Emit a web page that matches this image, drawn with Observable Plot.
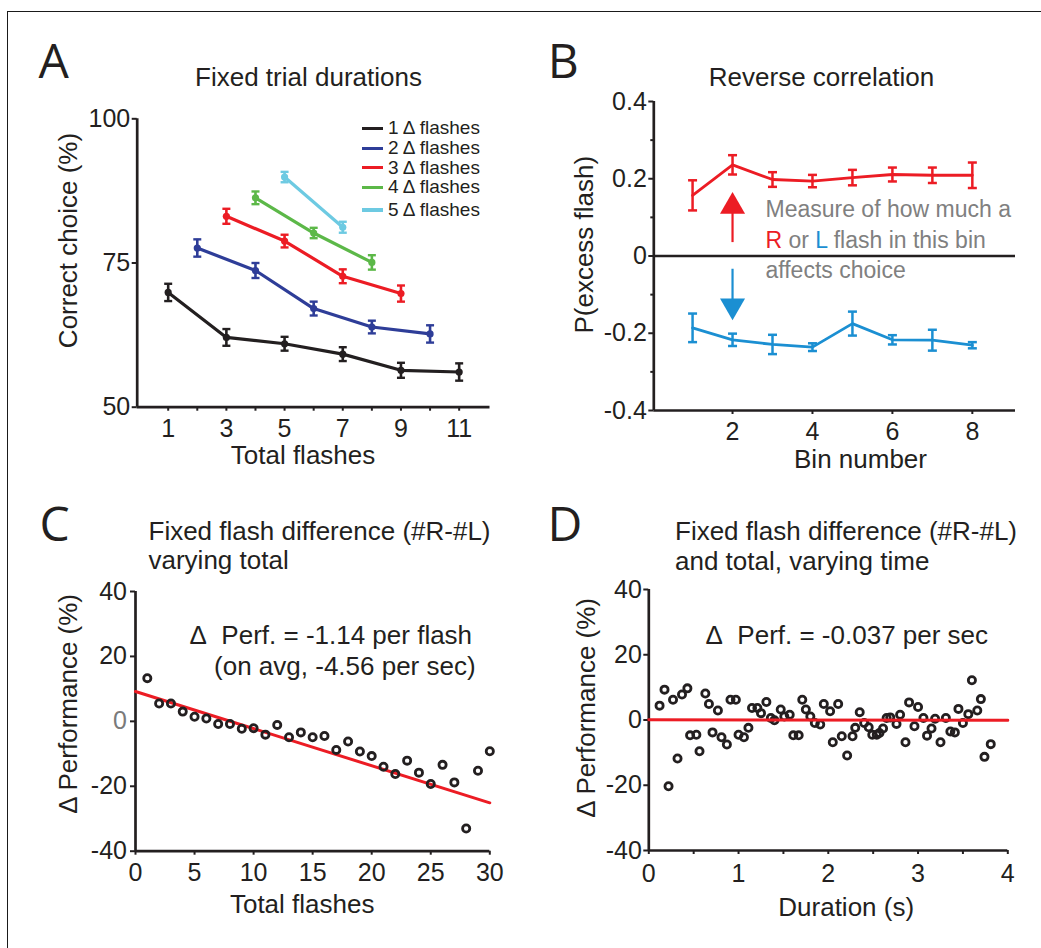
<!DOCTYPE html>
<html><head><meta charset="utf-8">
<script src="https://cdn.jsdelivr.net/npm/d3@7"></script>
<script src="https://cdn.jsdelivr.net/npm/@observablehq/plot@0.6"></script>
<style>
body{margin:0;background:#fff;}
#fig{position:relative;width:1041px;height:948px;overflow:hidden;background:#fff;font-family:"Liberation Sans",Arial,sans-serif;color:#231f20}
.leg{position:absolute;font-size:19px;line-height:19px;white-space:nowrap}
.leg .sw{position:absolute;height:3.5px}
.bd{position:absolute;background:#1a1a1a}
</style></head><body><div id="fig"></div>
<script>
// ---------- Panel A data ----------
const seriesA = ["1 Δ flashes", "2 Δ flashes", "3 Δ flashes", "4 Δ flashes", "5 Δ flashes"];
const totalA = [[1, 3, 5, 7, 9, 11], [2, 4, 6, 8, 10], [3, 5, 7, 9], [4, 6, 8], [5, 7]];
const correctA = [[69.9, 62.1, 61.0, 59.2, 56.4, 56.1], [77.6, 73.7, 67.1, 63.9, 62.7], [83.1, 78.8, 72.7, 69.7], [86.3, 80.2, 75.1], [89.9, 81.2]];
const semA = [[1.5, 1.45, 1.2, 1.2, 1.3, 1.5], [1.5, 1.3, 1.2, 1.1, 1.5], [1.3, 1.1, 1.2, 1.4], [1.1, 0.9, 1.25], [0.9, 0.95]];
const xTicksA = [1, 2, 3, 4, 5, 6, 7, 8, 9, 10, 11];
const yTicksA = [50, 75, 100];

// ---------- Panel B data ----------
const binsB = [1, 2, 3, 4, 5, 6, 7, 8];
const rightB = [0.157, 0.236, 0.198, 0.194, 0.203, 0.211, 0.209, 0.209];
const rightErrB = [0.039, 0.025, 0.019, 0.016, 0.02, 0.018, 0.02, 0.033];
const leftB = [-0.186, -0.217, -0.229, -0.236, -0.175, -0.217, -0.218, -0.231];
const leftErrB = [0.037, 0.016, 0.025, 0.01, 0.031, 0.012, 0.027, 0.008];
const yTicksB = [-0.4, -0.2, 0, 0.2, 0.4];
const yMinorB = [-0.3, -0.1, 0.1, 0.3];
const xTicksB = [2, 4, 6, 8];
const noteB = ["Measure of how much a", "R or L flash in this bin", "affects choice"];

// ---------- Panel C data ----------
const totalC = [1,2,3,4,5,6,7,8,9,10,11,12,13,14,15,16,17,18,19,20,21,22,23,24,25,26,27,28,29,30];
const perfC = [13.3,5.5,5.5,3.0,1.4,0.9,-0.8,-0.8,-2.3,-2.1,-4.1,-1.1,-4.9,-3.4,-4.9,-4.5,-8.8,-6.2,-9.3,-10.7,-14.0,-16.2,-12.1,-15.8,-19.3,-13.4,-18.8,-33.0,-15.2,-9.2];
const fitXC = [0, 30];
const fitYC = [9.2, -25.1];
const xTicksC = [0, 5, 10, 15, 20, 25, 30];
const yTicksCD = [-40, -20, 0, 20, 40];

// ---------- Panel D data ----------
const durD = [0.12,0.175,0.22,0.27,0.32,0.37,0.43,0.46,0.53,0.565,0.63,0.67,0.71,0.77,0.81,0.87,0.91,0.97,1.0,1.06,1.11,1.15,1.21,1.25,1.31,1.36,1.40,1.47,1.51,1.57,1.61,1.67,1.71,1.75,1.80,1.85,1.91,1.95,2.02,2.05,2.11,2.15,2.21,2.27,2.30,2.35,2.40,2.45,2.49,2.54,2.57,2.61,2.65,2.69,2.76,2.80,2.86,2.90,2.96,3.00,3.06,3.10,3.15,3.19,3.25,3.31,3.36,3.41,3.45,3.50,3.56,3.60,3.66,3.70,3.74,3.81];
const perfD = [4.4,9.3,-20.3,6.2,-11.8,7.8,9.7,-4.7,-4.5,-9.6,8.1,4.9,-3.8,2.9,-5.3,-7.5,6.2,6.2,-4.5,-5.3,-2.4,3.7,3.7,2.1,5.5,0.6,-0.1,3.2,1.1,1.6,-4.7,-4.7,6.2,3.2,1.1,-0.9,-1.4,4.9,2.7,-6.8,4.9,-5.0,-10.9,-5.0,-2.4,2.4,-0.9,-2.2,-4.5,-4.5,-4.0,-2.6,0.6,0.8,-1.2,1.6,-6.8,5.4,-1.9,4.0,0.6,-4.8,-2.6,0.4,-6.8,0.6,-3.5,-3.8,3.4,-0.9,1.8,12.2,2.9,6.4,-11.3,-7.4];
const fitXD = [0, 4];
const fitYD = [0.05, -0.1];
const xTicksD = [0, 0.5, 1, 1.5, 2, 2.5, 3, 3.5, 4];

// ---------- styles ----------
const INK = "#231f20";
const colorsA = ["#231f20", "#2e3d98", "#ec1c24", "#5cb848", "#6dcae2"];
const RED = "#ec1c24", BLUE = "#1b8fd2", GRAY = "#808080";
const FONT = '"Liberation Sans", Arial, sans-serif';
const LETTER = '"Open Sans", sans-serif';
const hline = {draw(ctx, size) { const w = Math.sqrt(size / Math.PI); ctx.moveTo(-w, 0); ctx.lineTo(w, 0); }};
const svgStyle = {fontFamily: FONT, fontSize: "25px", color: INK, background: "transparent", overflow: "visible"};
const fig = document.getElementById("fig");

function txt(m, s, x, y, o = {}) {
  return Plot.text([s], {text: d => d, frameAnchor: "top-left", dx: x - m.left, dy: y - m.top,
    lineAnchor: "bottom", fill: INK, fontSize: 26, ...o});
}
function place(svg, x, y) {
  svg.style.position = "absolute"; svg.style.left = x + "px"; svg.style.top = y + "px";
  fig.appendChild(svg);
}
const fmt = d => String(d);

// ---------- Panel A ----------
const rowsA = seriesA.flatMap((s, i) => totalA[i].map((x, j) => ({series: s, x, y: correctA[i][j], e: semA[i][j]})));
const mA = {top: 118.3, right: 30.5, bottom: 63.3, left: 136.7};
const xDomA = [-0.065, 12.06];
const plotA = Plot.plot({
  width: 520, height: 470, marginTop: mA.top, marginRight: mA.right, marginBottom: mA.bottom, marginLeft: mA.left,
  style: svgStyle,
  x: {domain: xDomA}, y: {domain: [50, 100]},
  color: {domain: seriesA, range: colorsA},
  marks: [
    Plot.axisY({ticks: yTicksA, tickSize: 5, tickPadding: 2, tickFormat: fmt, label: null, color: INK, strokeWidth: 2, fontSize: 25}),
    Plot.axisX({ticks: xTicksA, tickSize: 4, tickPadding: 8, tickFormat: d => d % 2 ? String(d) : "", label: null, color: INK, strokeWidth: 2, fontSize: 25}),
    Plot.ruleX([xDomA[0]], {stroke: INK, strokeWidth: 2.7}),
    Plot.ruleY([50], {stroke: INK, strokeWidth: 2.7}),
    Plot.line(rowsA, {x: "x", y: "y", z: "series", stroke: "series", strokeWidth: 3.2}),
    Plot.ruleX(rowsA, {x: "x", y1: d => d.y - d.e, y2: d => d.y + d.e, stroke: "series", strokeWidth: 2.6}),
    Plot.dot(rowsA, {x: "x", y: d => d.y + d.e, symbol: hline, r: 4, stroke: "series", fill: "none", strokeWidth: 2.4}),
    Plot.dot(rowsA, {x: "x", y: d => d.y - d.e, symbol: hline, r: 4, stroke: "series", fill: "none", strokeWidth: 2.4}),
    Plot.dot(rowsA, {x: "x", y: "y", r: 3.6, fill: "series"}),
    txt(mA, "A", 38, 77.7, {fontFamily: LETTER, fontSize: 48, textAnchor: "start"}),
    txt(mA, "Fixed trial durations", 308, 85, {textAnchor: "middle"}),
    txt(mA, "Correct choice (%)", 76.5, 240, {rotate: -90, textAnchor: "middle"}),
    txt(mA, "Total flashes", 302.5, 463.3, {textAnchor: "middle"})
  ]
});
place(plotA, 0, 0);

// ---------- Panel B ----------
const mB = {top: 101, right: 26, bottom: 60, left: 133.3};
const xDomB = [0.03, 9.08];
const rowsR = binsB.map((b, i) => ({bin: b, v: rightB[i], e: rightErrB[i]}));
const rowsL = binsB.map((b, i) => ({bin: b, v: leftB[i], e: leftErrB[i]}));
function seriesMarks(rows, color) {
  return [
    Plot.line(rows, {x: "bin", y: "v", stroke: color, strokeWidth: 2.8}),
    Plot.ruleX(rows, {x: "bin", y1: d => d.v - d.e, y2: d => d.v + d.e, stroke: color, strokeWidth: 2.5}),
    Plot.dot(rows, {x: "bin", y: d => d.v + d.e, symbol: hline, r: 4.5, stroke: color, fill: "none", strokeWidth: 2.5}),
    Plot.dot(rows, {x: "bin", y: d => d.v - d.e, symbol: hline, r: 4.5, stroke: color, fill: "none", strokeWidth: 2.5})
  ];
}
const arrowUp = [{x: 2, y1: 0.036, y2: 0.122, head: 0.128}];
const arrowDown = [{x: 2, y1: -0.033, y2: -0.122, head: -0.129}];
const plotB = Plot.plot({
  width: 521, height: 470, marginTop: mB.top, marginRight: mB.right, marginBottom: mB.bottom, marginLeft: mB.left,
  style: svgStyle,
  x: {domain: xDomB}, y: {domain: [-0.4, 0.4]},
  marks: [
    Plot.axisY({ticks: yTicksB, tickSize: 5, tickPadding: 2, tickFormat: fmt, label: null, color: INK, strokeWidth: 2, fontSize: 25}),
    Plot.axisY({ticks: yMinorB, tickSize: 3, tickFormat: () => "", label: null, color: INK, strokeWidth: 2}),
    Plot.axisX({ticks: xTicksB, tickSize: 4, tickPadding: 7.5, tickFormat: fmt, label: null, color: INK, strokeWidth: 2, fontSize: 25}),
    Plot.ruleX([xDomB[0]], {stroke: INK, strokeWidth: 2.7}),
    Plot.ruleY([-0.4], {stroke: INK, strokeWidth: 2.7}),
    Plot.ruleY([0], {stroke: INK, strokeWidth: 2.5}),
    ...seriesMarks(rowsR, RED),
    ...seriesMarks(rowsL, BLUE),
    Plot.link(arrowUp, {x1: "x", x2: "x", y1: "y1", y2: "y2", stroke: RED, strokeWidth: 2.2}),
    Plot.dot(arrowUp, {x: "x", y: "head", symbol: "triangle", r: 9.3, fill: RED, stroke: "none"}),
    Plot.link(arrowDown, {x1: "x", x2: "x", y1: "y1", y2: "y2", stroke: BLUE, strokeWidth: 2.2}),
    Plot.dot(arrowDown, {x: "x", y: "head", symbol: "triangle", r: 9.3, fill: BLUE, stroke: "none", rotate: 180}),
    Plot.text([noteB[0]], {text: d => d, x: 2.824, y: 0.1196, textAnchor: "start", lineAnchor: "middle", fill: GRAY, fontSize: 23}),
    Plot.text([noteB[1]], {text: d => d, x: 2.824, y: 0.040, textAnchor: "start", lineAnchor: "middle", fill: GRAY, fontSize: 23}),
    Plot.text([noteB[2]], {text: d => d, x: 2.824, y: -0.0375, textAnchor: "start", lineAnchor: "middle", fill: GRAY, fontSize: 23}),
    txt(mB, "B", 27.2, 77.5, {fontFamily: LETTER, fontSize: 48, textAnchor: "start"}),
    txt(mB, "Reverse correlation", 301, 85, {textAnchor: "middle"}),
    txt(mB, "P(excess flash)", 72.8, 244.2, {rotate: -90, textAnchor: "middle"}),
    txt(mB, "Bin number", 340, 467.5, {textAnchor: "middle"})
  ]
});
d3.select(plotB).selectAll("text").filter(function () { return this.textContent === noteB[1]; })
  .each(function () {
    const t = d3.select(this);
    t.text(null);
    t.append("tspan").attr("fill", RED).text("R");
    t.append("tspan").text(" or ");
    t.append("tspan").attr("fill", BLUE).text("L");
    t.append("tspan").text(" flash in this bin");
  });
place(plotB, 520, 0);

// ---------- Panel C ----------
const mC = {top: 121, right: 30.7, bottom: 97.3, left: 135};
const rowsC = totalC.map((x, i) => ({x, y: perfC[i]}));
const fitC = fitXC.map((x, i) => ({x, y: fitYC[i]}));
const plotC = Plot.plot({
  width: 520, height: 478, marginTop: mC.top, marginRight: mC.right, marginBottom: mC.bottom, marginLeft: mC.left,
  style: svgStyle,
  x: {domain: [0, 30]}, y: {domain: [-40, 40]},
  marks: [
    Plot.axisY({ticks: yTicksCD, tickSize: 5, tickPadding: 3.5, tickFormat: fmt, label: null, color: INK, strokeWidth: 2, fontSize: 25}),
    Plot.axisX({ticks: xTicksC, tickSize: 4, tickPadding: 8.5, tickFormat: fmt, label: null, color: INK, strokeWidth: 2, fontSize: 25}),
    Plot.ruleX([0], {stroke: INK, strokeWidth: 2.7}),
    Plot.ruleY([-40], {stroke: INK, strokeWidth: 2.7}),
    Plot.line(fitC, {x: "x", y: "y", stroke: RED, strokeWidth: 3}),
    Plot.dot(rowsC, {x: "x", y: "y", r: 3.6, stroke: INK, strokeWidth: 2.8, fill: "none"}),
    Plot.text(["Δ\u00a0 Perf. = -1.14 per flash"], {text: d => d, x: 28.5, y: 26.4, textAnchor: "end", lineAnchor: "middle", fill: INK, fontSize: 26}),
    Plot.text(["(on avg, -4.56 per sec)"], {text: d => d, x: 28.8, y: 16.7, textAnchor: "end", lineAnchor: "middle", fill: INK, fontSize: 26}),
    txt(mC, "C", 39, 70, {fontFamily: LETTER, fontSize: 48, textAnchor: "start"}),
    txt(mC, "Fixed flash difference (#R-#L)", 148, 69.3, {textAnchor: "start"}),
    txt(mC, "varying total", 148, 98.3, {textAnchor: "start"}),
    txt(mC, "Δ Performance (%)", 76.5, 233.3, {rotate: -90, textAnchor: "middle"}),
    txt(mC, "Total flashes", 301.7, 442.5, {textAnchor: "middle"})
  ]
});
d3.select(plotC).selectAll('g[aria-label="y-axis tick label"] text')
  .filter(function () { return this.textContent === "0"; }).attr("fill", "#7a7a7a");
place(plotC, 0, 470);

// ---------- Panel D ----------
const mD = {top: 119, right: 33.7, bottom: 98, left: 128.3};
const rowsD = durD.map((x, i) => ({x, y: perfD[i]}));
const fitD = fitXD.map((x, i) => ({x, y: fitYD[i]}));
const plotD = Plot.plot({
  width: 521, height: 478, marginTop: mD.top, marginRight: mD.right, marginBottom: mD.bottom, marginLeft: mD.left,
  style: svgStyle,
  x: {domain: [0, 4]}, y: {domain: [-40, 40]},
  marks: [
    Plot.axisY({ticks: yTicksCD, tickSize: 5, tickPadding: 2, tickFormat: fmt, label: null, color: INK, strokeWidth: 2, fontSize: 25}),
    Plot.axisX({ticks: xTicksD, tickSize: 4, tickPadding: 10, tickFormat: d => Number.isInteger(d) ? String(d) : "", label: null, color: INK, strokeWidth: 2, fontSize: 25}),
    Plot.ruleX([0], {stroke: INK, strokeWidth: 2.7}),
    Plot.ruleY([-40], {stroke: INK, strokeWidth: 2.7}),
    Plot.dot(rowsD, {x: "x", y: "y", r: 3.6, stroke: INK, strokeWidth: 2.8, fill: "none"}),
    Plot.line(fitD, {x: "x", y: "y", stroke: RED, strokeWidth: 3}),
    Plot.text(["Δ\u00a0 Perf. = -0.037 per sec"], {text: d => d, x: 0.632, y: 25.7, textAnchor: "start", lineAnchor: "middle", fill: INK, fontSize: 26}),
    txt(mD, "D", 27, 70, {fontFamily: LETTER, fontSize: 48, textAnchor: "start"}),
    txt(mD, "Fixed flash difference (#R-#L)", 154.5, 69.3, {textAnchor: "start"}),
    txt(mD, "and total, varying time", 154.5, 99, {textAnchor: "start"}),
    txt(mD, "Δ Performance (%)", 74.5, 237.3, {rotate: -90, textAnchor: "middle"}),
    txt(mD, "Duration (s)", 325.7, 445.3, {textAnchor: "middle"})
  ]
});
place(plotD, 520, 470);

// ---------- Legend for panel A ----------
const legRowY = [128.3, 148.3, 167.7, 187.3, 210];
seriesA.forEach((s, i) => {
  const row = document.createElement("div");
  row.className = "leg";
  row.style.left = "362px";
  row.style.top = (legRowY[i] - 10) + "px";
  row.innerHTML = `<span class="sw" style="left:0;top:8.25px;width:21px;background:${colorsA[i]}"></span>` +
    `<span style="position:absolute;left:26px;top:0">${s}</span>`;
  fig.appendChild(row);
});

// ---------- frame lines ----------
const borderTop = document.createElement("div");
borderTop.className = "bd"; Object.assign(borderTop.style, {left: "6.5px", top: "10.5px", width: "1035px", height: "1.3px"});
const borderLeft = document.createElement("div");
borderLeft.className = "bd"; Object.assign(borderLeft.style, {left: "6.5px", top: "10.5px", width: "1.3px", height: "938px"});
fig.appendChild(borderTop); fig.appendChild(borderLeft);
</script></body></html>
